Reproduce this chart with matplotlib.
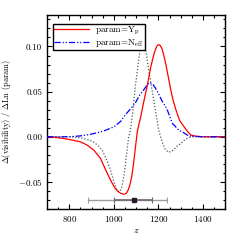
import numpy as np
import matplotlib
matplotlib.use("Agg")
import matplotlib.pyplot as plt

# derivative curves
z_yp = [700, 750, 800, 850, 880, 910, 940, 960, 985, 1005, 1018, 1030, 1040,
        1048, 1056, 1064, 1072, 1080, 1088, 1096, 1105, 1120, 1135, 1150,
        1165, 1180, 1190, 1196, 1202, 1208, 1215, 1222, 1232, 1245, 1255,
        1265, 1278, 1295, 1315, 1330, 1345, 1370, 1400, 1500]
d_yp = [0.0, -0.001, -0.003, -0.0056, -0.0092, -0.0148, -0.024, -0.035,
        -0.048, -0.057, -0.0605, -0.0625, -0.0634, -0.0635, -0.0625, -0.059,
        -0.053, -0.044, -0.030, -0.013, 0.006, 0.022, 0.040, 0.057, 0.077,
        0.092, 0.099, 0.1015, 0.102, 0.101, 0.098, 0.092, 0.0815, 0.065,
        0.052, 0.041, 0.030, 0.018, 0.011, 0.006, 0.002, 0.0005, 0.0, 0.0]

z_neff = [700, 800, 850, 900, 950, 1000, 1030, 1050, 1075, 1095, 1115, 1134,
          1150, 1161, 1175, 1186, 1200, 1215, 1228, 1239, 1262, 1291, 1310,
          1335, 1400, 1500]
d_neff = [0.0, 0.0, 0.001, 0.003, 0.006, 0.011, 0.017, 0.024, 0.031, 0.037,
          0.046, 0.052, 0.058, 0.060, 0.058, 0.054, 0.048, 0.040, 0.035,
          0.030, 0.015, 0.0074, 0.005, 0.001, 0.0, 0.0]

z_dot = [700, 800, 850, 880, 905, 930, 950, 970, 985, 1000, 1012, 1020, 1027,
         1034, 1040, 1046, 1052, 1059, 1066, 1074, 1085, 1096, 1111, 1120,
         1130, 1141, 1156, 1171, 1186, 1201, 1215, 1228, 1245, 1265, 1285,
         1300, 1320, 1345, 1500]
d_dot = [0.0, 0.0, -0.001, -0.003, -0.005, -0.010, -0.016, -0.027, -0.037,
         -0.050, -0.058, -0.0605, -0.0605, -0.057, -0.050, -0.041, -0.030,
         -0.015, 0.0, 0.0074, 0.028, 0.0556, 0.085, 0.101, 0.112, 0.100,
         0.074, 0.052, 0.030, 0.0074, -0.005, -0.013, -0.0173, -0.015,
         -0.010, -0.0074, -0.003, 0.0, 0.0]

# redshift error bar: centre, 1-sigma and 2-sigma ranges
z_best = 1090
z_1sig = (1000, 1170)
z_2sig = (886, 1236)
bar_y = -0.0705

plt.rcParams["font.family"] = "serif"
plt.rcParams["font.serif"] = ["cmr10"]
plt.rcParams["mathtext.fontset"] = "cm"
plt.rcParams["axes.formatter.use_mathtext"] = True

fig = plt.figure(figsize=(2.4, 2.4), dpi=100)
ax = fig.add_axes([0.196, 0.129, 0.743, 0.809])

ax.plot(z_dot, d_dot, color="#4d5c5c", lw=0.9, ls=(0, (1, 1.5)), zorder=2)
ax.plot(z_yp, d_yp, color="red", lw=0.9, label=r"param=Y$_{\rm p}$", zorder=3)
ax.plot(z_neff, d_neff, color="blue", lw=0.9,
        ls=(0, (5, 1.5, 1, 1.5, 1, 1.5)),
        label=r"param=N$_{\rm eff}$", zorder=3)

# error bar on z
ax.errorbar(z_best, bar_y, xerr=[[z_best - z_2sig[0]], [z_2sig[1] - z_best]],
            fmt="none", ecolor="#a09aa3", elinewidth=1.0, capsize=2.2,
            capthick=0.8)
ax.errorbar(z_best, bar_y, xerr=[[z_best - z_1sig[0]], [z_1sig[1] - z_best]],
            fmt="none", ecolor="#6e6670", elinewidth=1.2, capsize=2.2,
            capthick=0.8)
ax.plot([z_best], [bar_y], "s", color="#2a1a2a", ms=2.5)

ax.set_xlim(700, 1500)
ax.set_ylim(-0.08, 0.135)
ax.set_xticks([800, 1000, 1200, 1400])
ax.set_xticks(np.arange(700, 1501, 50), minor=True)
ax.set_yticks([-0.05, 0.0, 0.05, 0.10])
ax.set_yticks(np.arange(-0.08, 0.1351, 0.01), minor=True)
ax.set_yticklabels([r"$-0.05$", "0.00", "0.05", "0.10"])

ax.tick_params(which="both", direction="in", top=True, right=True,
               labelsize=6.5, width=0.8)
ax.tick_params(which="major", length=3.5)
ax.tick_params(which="minor", length=1.8)
for s in ax.spines.values():
    s.set_linewidth(1.0)

ax.set_xlabel(r"$z$", fontsize=7, labelpad=2)
ax.set_ylabel(r"$\Delta$(visibility) / $\Delta$Ln (param)", fontsize=6,
              labelpad=3)

leg = ax.legend(loc="upper left", fontsize=6.5, handlelength=3.9,
                frameon=True, fancybox=False, framealpha=1.0,
                borderpad=0.15, labelspacing=0.0, handletextpad=0.6,
                borderaxespad=0.0, bbox_to_anchor=(0.033, 0.955))
leg.get_frame().set_edgecolor("black")
leg.get_frame().set_linewidth(1.0)
leg.set_zorder(5)

fig.savefig("out.png", dpi=100)
